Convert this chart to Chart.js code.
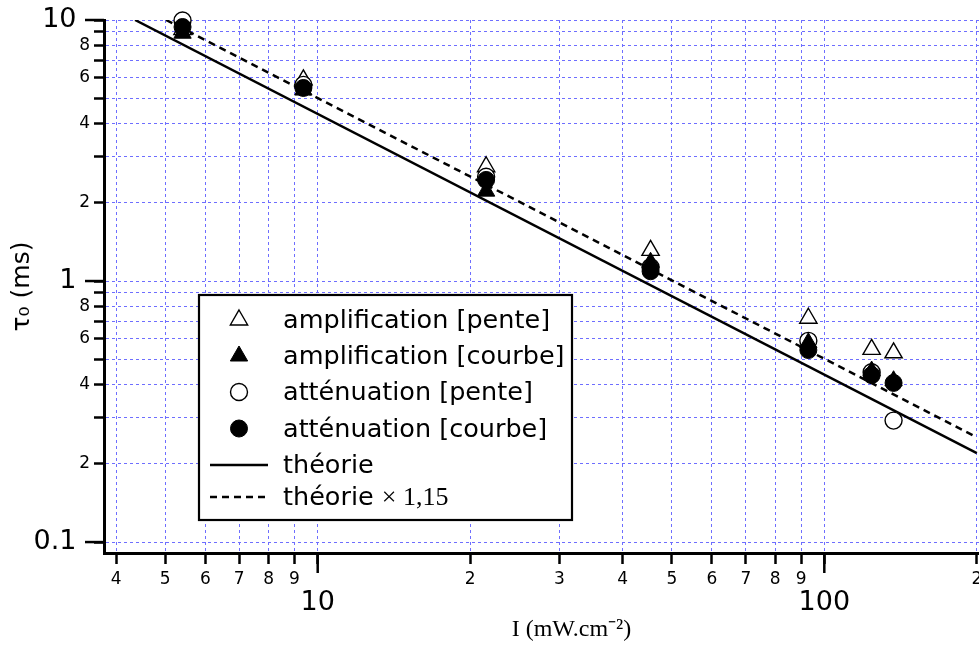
<!DOCTYPE html>
<html>
<head>
<meta charset="utf-8">
<script src="https://cdn.jsdelivr.net/npm/chart.js@4.4.1/dist/chart.umd.min.js"></script>
<style>
  html, body { margin: 0; padding: 0; background: #fff; }
  #wrap { width: 979px; height: 646px; }
</style>
</head>
<body>
<div id="wrap"><canvas id="main-chart" width="979" height="646"></canvas></div>
<script>
// intensity I (mW.cm-2) of each measurement
const intensity = [5.41, 9.37, 21.5, 45.4, 93.0, 124, 137];
// tau0 (ms)
const ampPente = [9.2, 5.9, 2.74, 1.31, 0.72, 0.547, 0.531];
const ampCourbe = [8.9, 5.39, 2.21, 1.18, 0.58, 0.452, 0.415];
const attPente = [9.95, 5.64, 2.51, 1.13, 0.59, 0.447, 0.292];
const attCourbe = [9.4, 5.49, 2.44, 1.09, 0.544, 0.436, 0.407];
// theory lines (end points)
const theoryI = [4.36, 200];
const theoryTau = [10, 0.219];
const theory115I = [5.02, 200];
const theory115Tau = [10, 0.252];
// ticks
const xTicks = [4, 5, 6, 7, 8, 9, 10, 20, 30, 40, 50, 60, 70, 80, 90, 100, 200];
const xMajor = [10, 100];
const yTicks = [0.1, 0.2, 0.3, 0.4, 0.5, 0.6, 0.7, 0.8, 0.9, 1, 2, 3, 4, 5, 6, 7, 8, 9, 10];
const yMajor = [0.1, 1, 10];
const yLabelled = [2, 4, 6, 8];
const legendLabels = ['amplification [pente]', 'amplification [courbe]', 'atténuation [pente]', 'atténuation [courbe]', 'théorie', 'théorie'];

const SANS = 'DejaVu Sans';
const SERIF = 'Liberation Serif';
const gridBlue = '#6e6eff';

function mantissa(v) {
  return Math.round(v / Math.pow(10, Math.floor(Math.log10(v) + 1e-9)));
}
function pts(xs, ys) {
  return xs.map((x, i) => ({ x: x, y: ys[i] }));
}

const markerSet = (label, ys, style, radius, filled, order) => ({
  label: label,
  data: pts(intensity, ys),
  pointStyle: style,
  pointRadius: radius,
  pointBorderWidth: filled ? 1 : 1.4,
  pointBackgroundColor: filled ? '#000' : '#fff',
  pointBorderColor: '#000',
  showLine: false,
  clip: false,
  order: order
});

const lineSet = (label, xs, ys, dash, order) => ({
  label: label,
  data: pts(xs, ys),
  showLine: true,
  pointRadius: 0,
  borderColor: '#000',
  borderWidth: 2.5,
  borderDash: dash,
  order: order
});

const legendBox = {
  id: 'legendBox',
  afterDatasetsDraw(chart) {
    const ctx = chart.ctx;
    const left = 199, top = 295, w = 373, h = 225;
    ctx.save();
    ctx.fillStyle = '#fff';
    ctx.fillRect(left, top, w, h);
    ctx.lineWidth = 2.2;
    ctx.strokeStyle = '#000';
    ctx.strokeRect(left, top, w, h);
    const rows = [320, 356, 392, 428.5, 465, 497];
    const mx = 239, tx = 283;
    chart.data.datasets.forEach((ds, i) => {
      const y = rows[i];
      ctx.strokeStyle = '#000';
      if (ds.showLine) {
        ctx.lineWidth = 2.5;
        ctx.setLineDash(ds.borderDash || []);
        ctx.beginPath();
        ctx.moveTo(210, y);
        ctx.lineTo(268, y);
        ctx.stroke();
        ctx.setLineDash([]);
      } else {
        ctx.fillStyle = ds.pointBackgroundColor;
        ctx.lineWidth = ds.pointBorderWidth;
        Chart.helpers.drawPoint(ctx, { pointStyle: ds.pointStyle, radius: ds.pointRadius, rotation: 0, borderWidth: ds.pointBorderWidth }, mx, y);
      }
      ctx.fillStyle = '#000';
      ctx.textBaseline = 'alphabetic';
      ctx.textAlign = 'left';
      ctx.font = '25.5px "' + SANS + '"';
      ctx.fillText(legendLabels[i], tx, y + 8);
      if (i === 5) {
        const wd = ctx.measureText(legendLabels[i] + ' ').width;
        ctx.font = '26px "' + SERIF + '"';
        ctx.fillText('× 1,15', tx + wd, y + 8);
      }
    });
    ctx.restore();
  }
};

const majorTicks = {
  id: 'majorTicks',
  afterDraw(chart) {
    const ctx = chart.ctx;
    const xs = chart.scales.x, ys = chart.scales.y;
    ctx.save();
    ctx.strokeStyle = '#000';
    ctx.lineWidth = 2.5;
    xMajor.forEach(v => {
      const p = xs.getPixelForValue(v);
      ctx.beginPath();
      ctx.moveTo(p, xs.top);
      ctx.lineTo(p, xs.top + 20);
      ctx.stroke();
    });
    yMajor.forEach(v => {
      const p = ys.getPixelForValue(v);
      ctx.beginPath();
      ctx.moveTo(ys.right, p);
      ctx.lineTo(ys.right - 19, p);
      ctx.stroke();
    });
    ctx.restore();
  }
};

new Chart(document.getElementById('main-chart').getContext('2d'), {
  type: 'scatter',
  data: {
    datasets: [
      markerSet('amplification [pente]', ampPente, 'triangle', 10, false, 3),
      markerSet('amplification [courbe]', ampCourbe, 'triangle', 10, true, 1),
      markerSet('atténuation [pente]', attPente, 'circle', 8.5, false, 2),
      markerSet('atténuation [courbe]', attCourbe, 'circle', 8.5, true, 0),
      lineSet('théorie', theoryI, theoryTau, [], 5),
      lineSet('théorie × 1,15', theory115I, theory115Tau, [7, 5], 4)
    ]
  },
  options: {
    responsive: false,
    animation: false,
    devicePixelRatio: 1,
    events: [],
    layout: { autoPadding: false, padding: { left: 0, right: 0, top: 20, bottom: 0 } },
    plugins: {
      legend: { display: false },
      tooltip: { enabled: false }
    },
    scales: {
      x: {
        type: 'logarithmic',
        position: 'bottom',
        min: 3.786,
        max: 202,
        bounds: 'data',
        afterBuildTicks: s => { s.ticks = xTicks.map(v => ({ value: v, major: false })); },
        afterFit: s => { s.height = 93; s.paddingLeft = 0; s.paddingRight = 0; },
        grid: { color: gridBlue, lineWidth: 1, tickLength: 11, tickColor: '#000', tickWidth: 2.5, tickBorderDash: [] },
        border: { display: true, color: '#000', width: 3, dash: [3, 3] },
        ticks: {
          autoSkip: false, maxRotation: 0, minRotation: 0, padding: 5, color: '#000',
          font: c => (c.tick && xMajor.includes(c.tick.value))
            ? { family: SANS, size: 27, lineHeight: 0.83 }
            : { family: SANS, size: 17, lineHeight: 1.2 },
          callback: v => xMajor.includes(v) ? ['', String(v)] : String(mantissa(v))
        },
        title: {
          display: true,
          text: '          I (mW.cm⁻²)',
          color: '#000',
          font: { family: SERIF, size: 24, lineHeight: 1.2 },
          padding: { top: 0, bottom: 2 }
        }
      },
      y: {
        type: 'logarithmic',
        position: 'left',
        min: 0.0908,
        max: 10,
        bounds: 'data',
        afterBuildTicks: s => { s.ticks = yTicks.map(v => ({ value: v, major: false })); },
        afterFit: s => { s.width = 104; s.paddingTop = 0; s.paddingBottom = 0; },
        grid: { color: gridBlue, lineWidth: 1, tickLength: 10, tickColor: '#000', tickWidth: 2.5, tickBorderDash: [] },
        border: { display: true, color: '#000', width: 3, dash: [3, 3] },
        ticks: {
          autoSkip: false, padding: 4, color: '#000',
          font: c => (c.tick && yMajor.includes(c.tick.value))
            ? { family: SANS, size: 27 }
            : { family: SANS, size: 17 },
          callback: v => {
            if (yMajor.includes(v)) return String(v) + '\u2002';
            const m = mantissa(v);
            return yLabelled.includes(m) ? String(m) : '';
          }
        },
        title: {
          display: true,
          text: 'τ₀ (ms)',
          color: '#000',
          font: { family: SANS, size: 25, lineHeight: 1.2 },
          padding: { top: 7, bottom: 0 }
        }
      }
    }
  },
  plugins: [legendBox, majorTicks]
});
</script>
</body>
</html>
